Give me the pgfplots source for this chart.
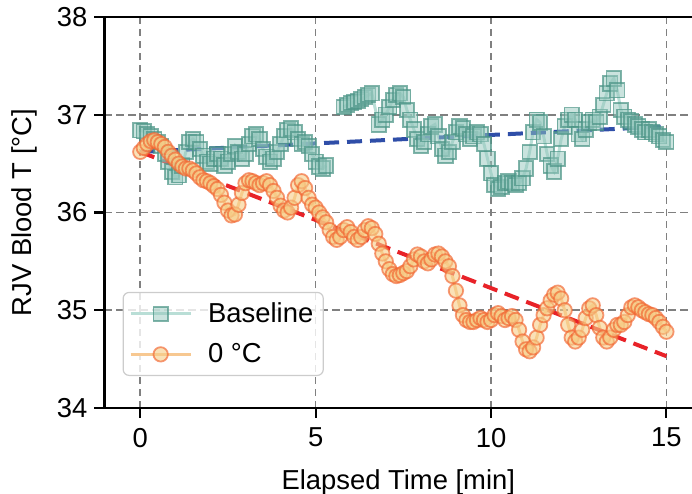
\documentclass[border=0pt]{standalone}
\usepackage{fontspec}
\setmainfont{Liberation Sans}
\usepackage{pgfplots}
\pgfplotsset{compat=1.18}
\definecolor{tealface}{RGB}{150,200,190}
\definecolor{tealedge}{RGB}{75,148,134}
\definecolor{tealline}{RGB}{185,222,214}
\definecolor{orface}{RGB}{246,205,135}
\definecolor{oredge}{RGB}{242,100,48}
\definecolor{orline}{RGB}{247,200,145}
\definecolor{fitblue}{RGB}{47,78,168}
\definecolor{fitred}{RGB}{232,34,40}
\newcommand{\myfont}{\fontsize{13.7pt}{16.5pt}\selectfont}
\begin{document}
\begin{tikzpicture}
\begin{axis}[
  scale only axis,
  width=293.75pt, height=195.5pt,
  xmin=-1.02, xmax=15.73, ymin=34, ymax=38,
  axis x line*=box, axis y line*=left,
  axis line style={-, line width=1.2pt, black},
  xtick={0,5,10,15}, ytick={34,35,36,37,38},
  xtick pos=bottom, ytick pos=left,
  tick align=outside,
  major tick length=5pt,
  every tick/.style={black, line width=1.1pt},
  /pgf/number format/assume math mode=true,
  tick label style={font=\myfont},
  xticklabel style={yshift=-1.5pt},
  label style={font=\myfont},
  grid=major,
  major grid style={gray, line width=0.8pt, dash pattern=on 3.7pt off 2.3pt},
  xlabel={Elapsed Time [min]},
  xlabel style={yshift=-4pt},
  ylabel={RJV Blood T [°C]},
  ylabel style={at={(axis description cs:0,0.5)}, anchor=center, yshift=40pt},
  unbounded coords=jump,
  legend style={at={(axis cs:-0.505,34.327)}, anchor=south west, font=\myfont,
    draw=black!20, line width=0.6pt, rounded corners=3pt, fill=white, fill opacity=0.8, text opacity=1,
    inner xsep=3pt, inner ysep=3pt, row sep=5pt, column sep=6pt},
  legend cell align=left,
  legend image code/.code={\draw[mark repeat=2,mark phase=2,#1] plot coordinates {(0pt,0pt) (15pt,0pt) (30pt,0pt)};},
]
\coordinate (sw) at (rel axis cs:0,0);
\coordinate (ne) at (rel axis cs:1,1);
\addplot[color=tealline, line width=1.5pt, mark=square*, mark size=3.6pt,
  mark options={solid, fill=tealface, draw=tealedge, fill opacity=0.5, draw opacity=0.7, line width=0.9pt}]
coordinates {
(0.0,36.84)(0.1,36.83)(0.2,36.80)(0.3,36.78)(0.4,36.75)(0.5,36.72)(0.6,36.68)(0.7,36.60)(0.8,36.52)(0.9,36.42)
(1.0,36.36)(1.1,36.38)(1.2,36.48)(1.3,36.62)(1.4,36.72)(1.5,36.75)(1.6,36.72)(1.7,36.65)(1.8,36.58)(1.9,36.52)
(2.0,36.50)(2.1,36.55)(2.2,36.60)(2.3,36.55)(2.4,36.48)(2.5,36.52)(2.6,36.60)(2.7,36.68)(2.8,36.62)(2.9,36.55)
(3.0,36.60)(3.1,36.70)(3.2,36.78)(3.3,36.80)(3.4,36.75)(3.5,36.65)(3.6,36.57)(3.7,36.52)(3.8,36.55)(3.9,36.62)
(4.0,36.70)(4.1,36.78)(4.2,36.84)(4.3,36.86)(4.4,36.82)(4.5,36.75)(4.6,36.70)(4.7,36.72)(4.8,36.68)(4.9,36.60)
(5.0,36.52)(5.1,36.47)(5.2,36.45)(5.3,36.48)(5.55,nan)
(5.8,37.08)(5.9,37.10)(6.0,37.12)(6.1,37.13)(6.2,37.14)(6.3,37.16)(6.4,37.18)(6.5,37.20)(6.6,37.22)
(6.8,36.90)(6.9,36.95)(7.0,37.00)(7.1,37.08)(7.2,37.15)(7.3,37.20)(7.4,37.22)(7.5,37.18)(7.6,37.05)(7.7,36.95)
(7.8,36.85)(7.9,36.75)(8.0,36.68)(8.1,36.72)(8.2,36.80)(8.3,36.88)(8.4,36.90)(8.5,36.78)(8.6,36.65)(8.7,36.58)
(8.8,36.62)(8.9,36.72)(9.0,36.82)(9.1,36.88)(9.2,36.86)(9.3,36.80)(9.4,36.75)(9.5,36.78)(9.6,36.82)(9.7,36.80)
(9.8,36.70)(9.9,36.55)(10.0,36.40)(10.1,36.28)(10.2,36.24)(10.3,36.26)(10.4,36.30)(10.5,36.32)(10.6,36.30)(10.7,36.28)
(10.8,36.30)(10.9,36.35)(11.0,36.45)(11.1,36.62)(11.2,36.82)(11.3,36.95)(11.4,36.92)(11.5,36.78)(11.6,36.60)(11.7,36.48)
(11.8,36.42)(11.9,36.55)(12.0,36.75)(12.1,36.88)(12.2,36.95)(12.3,37.00)(12.4,36.95)(12.5,36.80)(12.6,36.75)(12.7,36.85)
(12.8,36.92)(12.9,36.95)(13.0,36.92)(13.1,36.98)(13.2,37.10)(13.3,37.22)(13.4,37.32)(13.5,37.37)(13.6,37.25)(13.7,37.05)
(13.8,36.98)(13.9,36.95)(14.0,36.93)(14.1,36.90)(14.2,36.88)(14.3,36.85)(14.4,36.82)(14.5,36.85)(14.6,36.82)(14.7,36.80)
(14.8,36.78)(14.9,36.74)(15.0,36.72)
};
\addlegendentry{Baseline}
\addplot[color=orline, line width=1.5pt, mark=*, mark size=3.6pt,
  mark options={solid, fill=orface, draw=oredge, fill opacity=0.6, draw opacity=0.65, line width=0.9pt}]
coordinates {
(0.0,36.62)(0.1,36.66)(0.2,36.70)(0.3,36.73)(0.4,36.74)(0.5,36.72)(0.6,36.70)(0.7,36.67)(0.8,36.62)(0.9,36.58)
(1.0,36.54)(1.1,36.50)(1.2,36.47)(1.3,36.45)(1.4,36.45)(1.5,36.43)(1.6,36.40)(1.7,36.36)(1.8,36.33)(1.9,36.32)
(2.0,36.30)(2.1,36.27)(2.2,36.24)(2.3,36.18)(2.4,36.10)(2.5,36.02)(2.6,35.97)(2.7,35.98)(2.8,36.08)(2.9,36.20)
(3.0,36.30)(3.1,36.33)(3.2,36.32)(3.3,36.30)(3.4,36.28)(3.5,36.30)(3.6,36.32)(3.7,36.28)(3.8,36.22)(3.9,36.15)
(4.0,36.07)(4.1,36.02)(4.2,36.00)(4.3,36.05)(4.4,36.15)(4.5,36.28)(4.6,36.32)(4.7,36.25)(4.8,36.15)(4.9,36.08)
(5.0,36.05)(5.1,36.00)(5.2,35.95)(5.3,35.90)(5.4,35.82)(5.5,35.75)(5.6,35.72)(5.7,35.75)(5.8,35.82)(5.9,35.85)
(6.0,35.80)(6.1,35.75)(6.2,35.72)(6.3,35.75)(6.4,35.82)(6.5,35.86)(6.6,35.84)(6.7,35.78)(6.8,35.68)(6.9,35.58)
(7.0,35.50)(7.1,35.42)(7.2,35.37)(7.3,35.35)(7.4,35.36)(7.5,35.38)(7.6,35.40)(7.7,35.45)(7.8,35.52)(7.9,35.57)
(8.0,35.55)(8.1,35.50)(8.2,35.48)(8.3,35.52)(8.4,35.57)(8.5,35.58)(8.6,35.55)(8.7,35.50)(8.8,35.45)(8.9,35.35)
(9.0,35.20)(9.1,35.05)(9.2,34.95)(9.3,34.90)(9.4,34.88)(9.5,34.88)(9.6,34.90)(9.7,34.92)(9.8,34.90)(9.9,34.88)
(10.0,34.90)(10.1,34.95)(10.2,34.97)(10.3,34.94)(10.4,34.90)(10.5,34.92)(10.6,34.94)(10.7,34.90)(10.8,34.80)(10.9,34.68)
(11.0,34.60)(11.1,34.58)(11.2,34.62)(11.3,34.72)(11.4,34.85)(11.5,34.95)(11.6,35.02)(11.7,35.10)(11.8,35.16)(11.9,35.18)
(12.0,35.12)(12.1,35.00)(12.2,34.85)(12.3,34.72)(12.4,34.68)(12.5,34.72)(12.6,34.80)(12.7,34.92)(12.8,35.02)(12.9,35.05)
(13.0,34.95)(13.1,34.82)(13.2,34.72)(13.3,34.68)(13.4,34.72)(13.5,34.80)(13.6,34.85)(13.7,34.85)(13.8,34.88)(13.9,34.95)
(14.0,35.03)(14.1,35.05)(14.2,35.03)(14.3,35.00)(14.4,34.98)(14.5,34.96)(14.6,34.95)(14.7,34.92)(14.8,34.88)(14.9,34.83)
(15.0,34.78)
};
\addlegendentry{0 °C}
\addplot[forget plot, fitblue, line width=2pt, dash pattern=on 7.5pt off 4pt] coordinates {(0,36.62)(15,36.88)};
\addplot[forget plot, fitred, line width=2pt, dash pattern=on 7.5pt off 4pt] coordinates {(0,36.62)(15,34.53)};
\end{axis}
\pgfresetboundingbox
\path[use as bounding box] ([xshift=-52.25pt,yshift=-43pt]sw) rectangle ([yshift=8.5pt]ne);
\end{tikzpicture}
\end{document}
